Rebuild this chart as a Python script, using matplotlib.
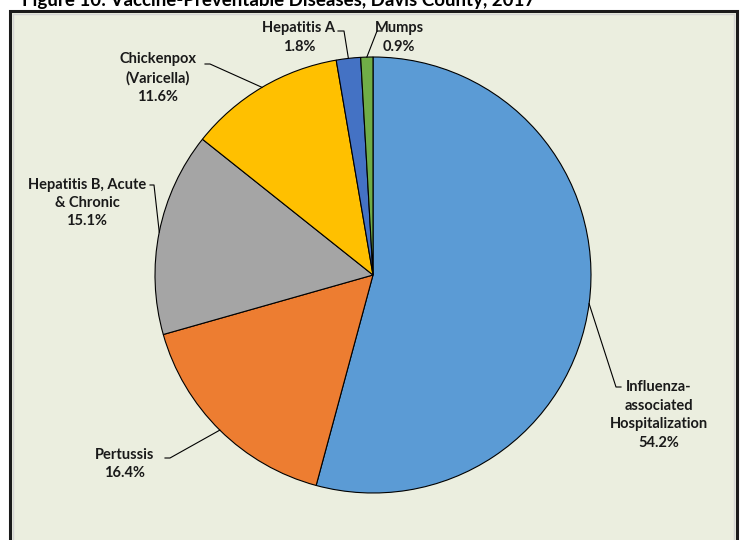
import numpy as np
import matplotlib
matplotlib.use("Agg")
import matplotlib.pyplot as plt
from matplotlib.patches import Rectangle

# ---- data ----
categories = ["Influenza-\nassociated\nHospitalization", "Pertussis",
              "Hepatitis B, Acute\n& Chronic", "Chickenpox\n(Varicella)",
              "Hepatitis A", "Mumps"]
values = [54.2, 16.4, 15.1, 11.6, 1.8, 0.9]
colors = ["#5B9BD5", "#ED7D31", "#A5A5A5", "#FFC000", "#4472C4", "#70AD47"]
title = "Figure 10: Vaccine-Preventable Diseases, Davis County, 2017"

W, H = 741, 540
fig = plt.figure(figsize=(W / 100, H / 100), dpi=100)
fig.patch.set_facecolor("white")
ax = fig.add_axes([0, 0, 1, 1])

def Y(y_img):
    return H - y_img

# frame
ax.add_patch(Rectangle((9.5, Y(560)), 727, 560 - 11, facecolor="#EBEEDF",
                       edgecolor="#1a1a1a", lw=2.2, zorder=0))
ax.add_patch(Rectangle((12.5, Y(560)), 721, 560 - 14, facecolor="none",
                       edgecolor="#d4d4d4", lw=1.0, zorder=0.5))

cx, cy, r = 373, Y(275), 218
wedges, _ = ax.pie(values, colors=colors, startangle=90, counterclock=False,
                   center=(cx, cy), radius=r, frame=True,
                   wedgeprops=dict(edgecolor="black", linewidth=0.8))
ax.set_xlim(0, W)
ax.set_ylim(0, H)
ax.set_axis_off()
ax.set_aspect("equal")

font = dict(family=["Lato", "DejaVu Sans"], fontweight="bold", fontsize=10.5,
            color="#1a1a1a")

# label layout: text center (image coords), elbow point, tick end
layout = [
    ((659, 415), (616, 387), (621, 387)),
    ((125, 464), (170, 458), (165, 458)),
    ((87, 203), (154, 185), (150, 185)),
    ((158, 78), (210, 64), (205, 64)),
    ((299, 37.5), (344, 31), (338, 31)),
    ((399, 37.5), (377, 31), (382, 31)),
]

for w, cat, val, (tpos, elbow, tick) in zip(wedges, categories, values, layout):
    ang = np.deg2rad((w.theta1 + w.theta2) / 2)
    px = cx + r * np.cos(ang)
    py = cy + r * np.sin(ang)
    ax.plot([px, elbow[0], tick[0]], [py, Y(elbow[1]), Y(tick[1])],
            color="black", lw=0.8, zorder=5)
    ax.text(tpos[0], Y(tpos[1]), f"{cat}\n{val:.1f}%", ha="center",
            va="center", linespacing=1.4, zorder=6, **font)

fig.text(22 / W, 1 - 6 / H, title, ha="left", va="baseline",
         family=["Lato", "DejaVu Sans"], fontweight="bold", fontsize=13.5,
         color="black")

fig.savefig("out.png", dpi=100, facecolor=fig.get_facecolor())
